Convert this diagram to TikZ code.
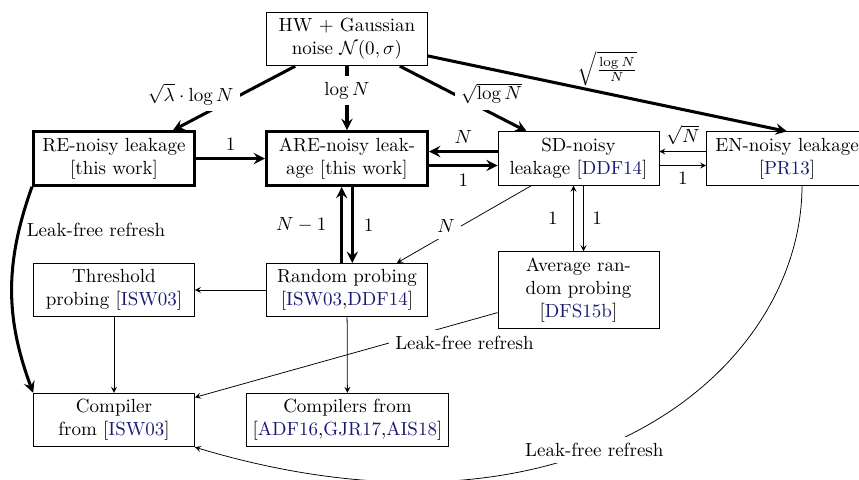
\documentclass[tikz,border=0pt]{standalone}
\usetikzlibrary{calc,arrows}
\definecolor{citeblue}{RGB}{25,25,115}
\newcommand{\cb}[1]{\textcolor{citeblue}{#1}}
\newcommand{\cit}[1]{{[}\cb{#1}{]}}
\begin{document}
\begin{tikzpicture}[x=0.526316pt, y=-0.526316pt, >=stealth,
  box/.style={draw, align=center, minimum width=84.7pt, minimum height=28pt, inner sep=3.33pt},
  tbox/.style={box, line width=1.6pt},
  thk/.style={line width=1.6pt, ->},
  thn/.style={->},
  lbl/.style={fill=white, inner sep=3.33pt}]
\useasboundingbox (0,0) rectangle (859,479);
% nodes
\node[box]  (hw)    at (347,39)      {HW + Gaussian\\noise $\mathcal{N}(0,\sigma)$};
\node[tbox] (re)    at (114,158.5)   {RE-noisy leakage\\{[}this work{]}};
\node[tbox] (are)   at (347,158.5)   {ARE-noisy leak-\\age [this work]};
\node[box]  (sd)    at (578.5,158.5) {SD-noisy\\leakage \cit{DDF14}};
\node[box]  (en)    at (787,158.5)   {EN-noisy leakage\\\cit{PR13}};
\node[box]  (thr)   at (114,290)     {Threshold\\probing \cit{ISW03}};
\node[box]  (rnd)   at (347,290)     {Random probing\\{[}\cb{ISW03},\cb{DDF14}{]}};
\node[box]  (avg)   at (578.5,290)   {Average ran-\\dom probing\\\cit{DFS15b}};
\node[box]  (comp)  at (114,420)     {Compiler\\from \cit{ISW03}};
\node[box]  (comps) at (347.5,420)   {Compilers from\\{[}\cb{ADF16},\cb{GJR17},\cb{AIS18}{]}};
% edges from HW
\draw[thk] (hw) -- node[lbl, pos=0.44, anchor=east] {$\sqrt{\lambda}\cdot\log N$} ($(re.north east)+(-23,0)$);
\draw[thk] (hw) -- node[lbl, pos=0.38] {$\log N$} (are);
\draw[thk] (hw) -- node[lbl, pos=0.42, anchor=west] {$\sqrt{\log N}$} ($(sd.north west)+(29,0)$);
\draw[thk] (hw) -- node[pos=0.5, above] {$\sqrt{\frac{\log N}{N}}$} (en.north);
% row 2
\draw[thk] (re) -- node[above] {1} (are);
\draw[thk] ($(sd.west)+(0,-7)$) -- node[above] {$N$} ($(are.east)+(0,-7)$);
\draw[thk] ($(are.east)+(0,7)$) -- node[below] {1} ($(sd.west)+(0,7)$);
\draw[thn] ($(en.west)+(0,-7)$) -- node[above] {$\sqrt{N}$} ($(sd.east)+(0,-7)$);
\draw[thn] ($(sd.east)+(0,7)$) -- node[below] {1} ($(en.west)+(0,7)$);
% vertical links
\draw[thk] ($(rnd.north)+(-5.3,0)$) -- node[left=4pt] {$N-1$} ($(are.south)+(-5.3,0)$);
\draw[thk] ($(are.south)+(5.3,0)$) -- node[right=1.9pt] {1} ($(rnd.north)+(5.3,0)$);
\draw[thn] (sd) -- node[lbl, pos=0.52, anchor=east] {$N$} ($(rnd.north east)+(-31,0)$);
\draw[thn] ($(avg.north)+(-5,0)$) -- node[left=4.8pt] {1} ($(sd.south)+(-5,0)$);
\draw[thn] ($(sd.south)+(5,0)$) -- node[right=1.1pt] {1} ($(avg.north)+(5,0)$);
% lower part
\draw[thn] (rnd) -- (thr);
\draw[thn] (thr) -- (comp);
\draw[thn] (rnd) -- (comps);
\draw[thn] (avg) -- node[lbl, pos=0.36, anchor=west] {Leak-free refresh} (comp);
\draw[thk] (re.south west) to[bend right=20] node[pos=0.2, anchor=west] {Leak-free refresh} (comp.north west);
\draw[thn] ($(en.south)+(15,0)$) .. controls +(0,185) and +(380,114) .. node[lbl, pos=0.57] {Leak-free refresh} (comp.south east);
\end{tikzpicture}
\end{document}
